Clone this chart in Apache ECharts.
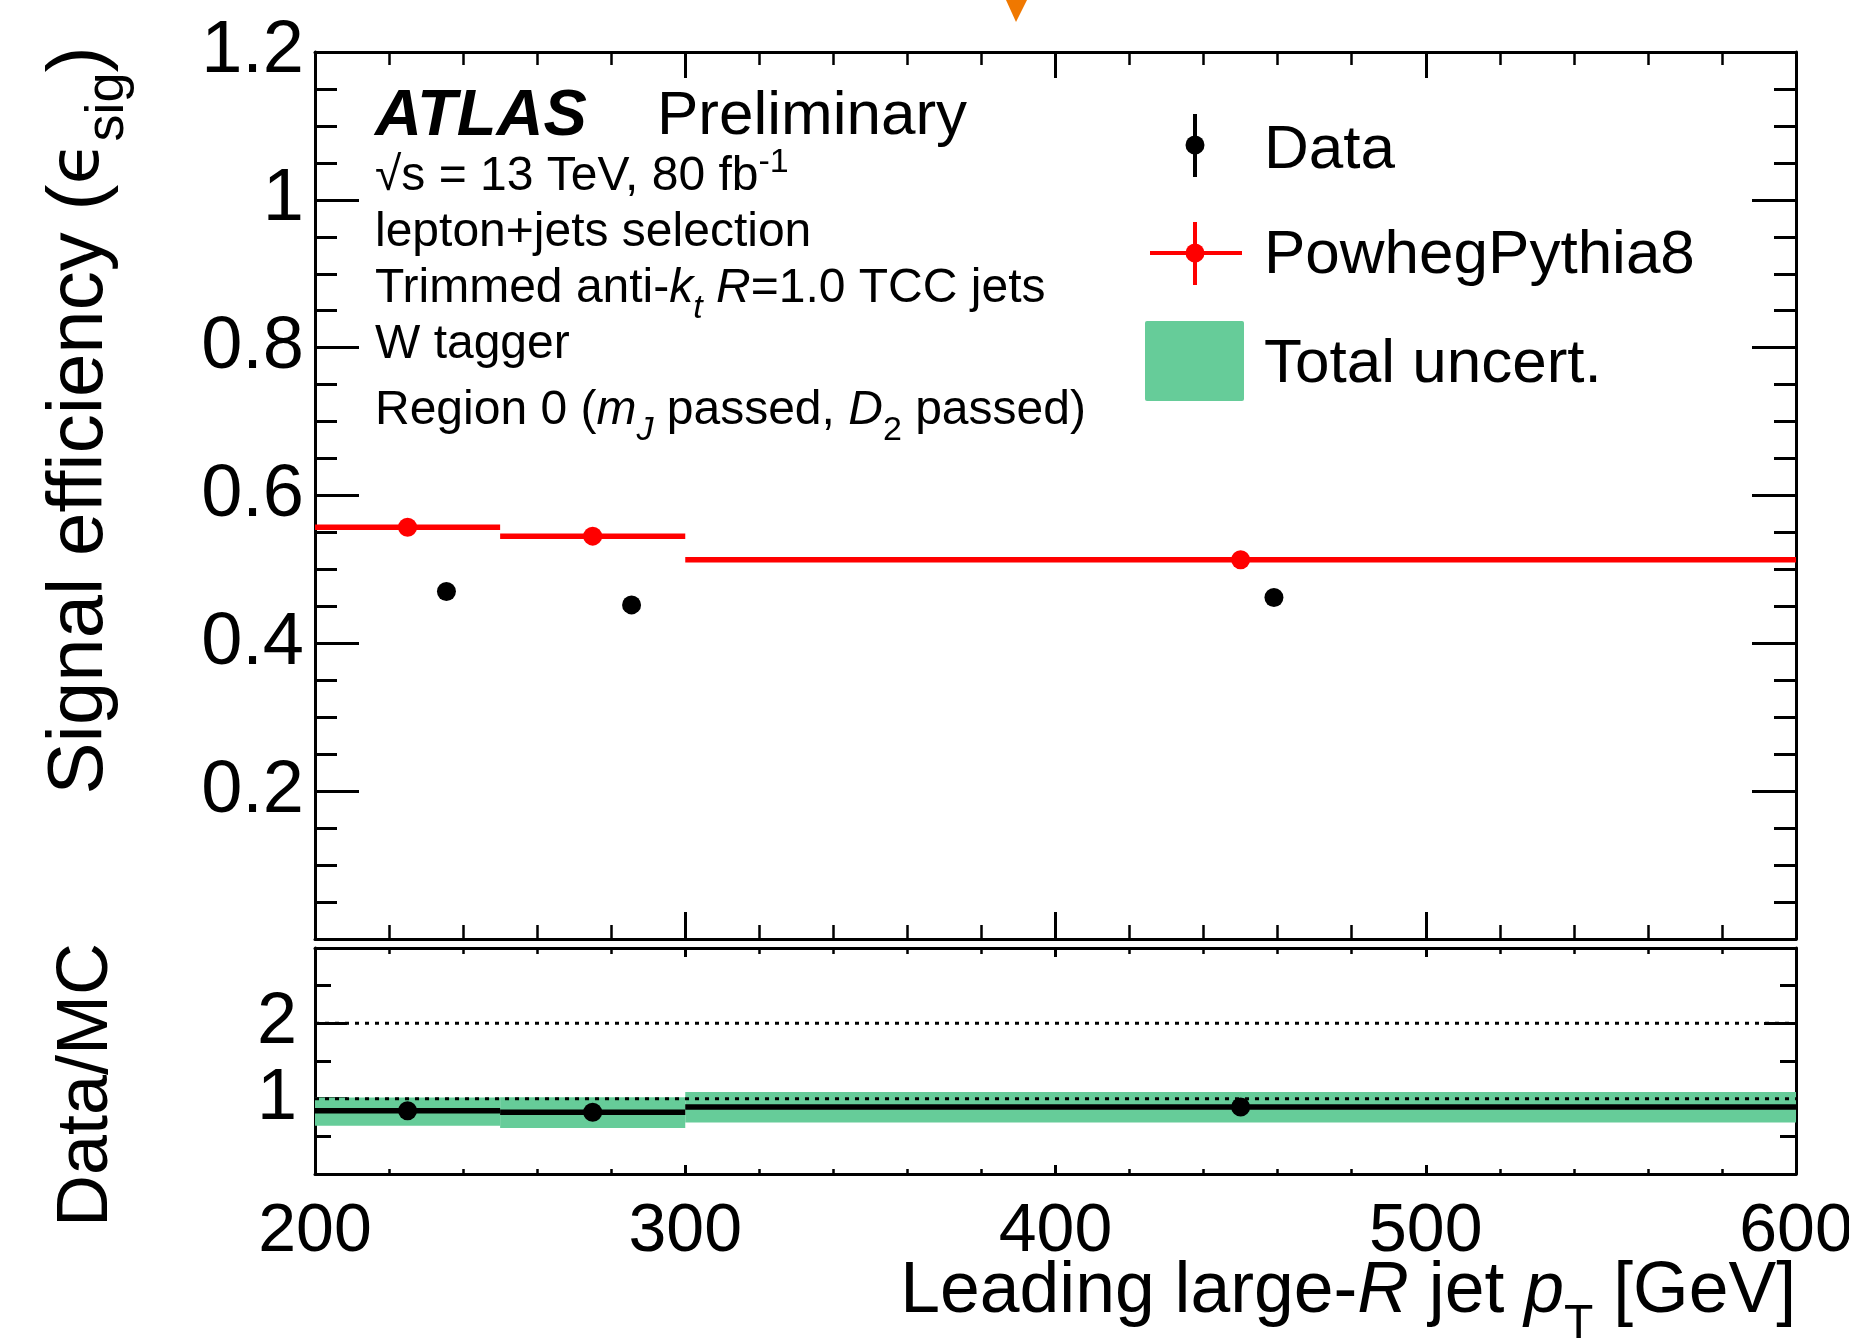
<!DOCTYPE html>
<html>
<head>
<meta charset="utf-8">
<script src="https://cdn.jsdelivr.net/npm/echarts@6/dist/echarts.min.js"></script>
<style>
html,body{margin:0;padding:0;background:#fff;}
#chart{width:1849px;height:1338px;}
</style>
</head>
<body>
<div id="chart"></div>
<script>
// ---- data ----
const binLow    = [200, 250, 300];
const binHigh   = [250, 300, 600];
const binCenter = [225, 275, 450];
const mcEff     = [0.557, 0.545, 0.513];      // PowhegPythia8
const dataX     = [235.5, 285.5, 459];        // data points (drawn offset)
const dataEff   = [0.470, 0.452, 0.462];      // Data
const ratioVal  = [0.84, 0.82, 0.89];         // Data/MC
const bandLow   = [0.64, 0.61, 0.685];        // Total uncert. lower edge
const bandHigh  = [1.015, 1.02, 1.09];        // Total uncert. upper edge
const xTicks    = [200, 300, 400, 500, 600];
const refLines  = [1, 2];

const FONT = "'Liberation Sans', Arial, Helvetica, sans-serif";
const RED = '#ff0000', GREEN = '#66cc99';

const mcRows = binLow.map((l, i) => [l, binHigh[i], mcEff[i], binCenter[i]]);
const ratioRows = binLow.map((l, i) => [l, binHigh[i], ratioVal[i], binCenter[i]]);
const bandRows = binLow.map((l, i) => [l, binHigh[i], bandLow[i], bandHigh[i]]);
const dataPts = dataX.map((x, i) => [x, dataEff[i]]);

function stepRender(color, lw, r) {
  return function (params, api) {
    const p0 = api.coord([api.value(0), api.value(2)]);
    const p1 = api.coord([api.value(1), api.value(2)]);
    const pc = api.coord([api.value(3), api.value(2)]);
    return {type: 'group', children: [
      {type: 'line', shape: {x1: p0[0], y1: p0[1], x2: p1[0], y2: p1[1]}, style: {stroke: color, lineWidth: lw}},
      {type: 'circle', shape: {cx: pc[0], cy: pc[1], r: r}, style: {fill: color}}
    ]};
  };
}

const frameLine = {show: true, onZero: false, lineStyle: {color: '#000', width: 3}};

function xAx(grid, pos, major, minor, labels) {
  return {
    type: 'value', gridIndex: grid, position: pos, min: 200, max: 600, interval: 100,
    axisLine: frameLine,
    axisTick: {show: true, inside: true, length: major, lineStyle: {color: '#000', width: 3}},
    minorTick: {show: true, splitNumber: 5, length: minor, lineStyle: {color: '#000', width: 2.5}},
    splitLine: {show: false}, minorSplitLine: {show: false},
    axisLabel: labels ? {show: true, fontFamily: FONT, fontSize: 68, lineHeight: 68, color: '#000', margin: 24,
      formatter: v => xTicks.indexOf(v) >= 0 ? String(v) : ''} : {show: false}
  };
}

const subRich = {
  t: {fontFamily: FONT, fontSize: 48, lineHeight: 56, color: '#000'},
  i: {fontFamily: FONT, fontSize: 48, lineHeight: 56, fontStyle: 'italic', color: '#000'},
  sub: {fontFamily: FONT, fontSize: 34, lineHeight: 56, height: 16, verticalAlign: 'bottom', color: '#000'},
  subi: {fontFamily: FONT, fontSize: 34, lineHeight: 56, height: 16, verticalAlign: 'bottom', fontStyle: 'italic', color: '#000'},
  sup: {fontFamily: FONT, fontSize: 34, lineHeight: 56, height: 28, verticalAlign: 'top', color: '#000'}
};

const opt = {
  animation: false,
  backgroundColor: '#fff',
  grid: [
    {left: 315, right: 53, top: 52, height: 887, containLabel: false, outerBoundsMode: 'none'},
    {left: 315, right: 53, top: 948, height: 226, containLabel: false, outerBoundsMode: 'none'}
  ],
  xAxis: [
    xAx(0, 'bottom', 27, 14, false),
    xAx(0, 'top', 26, 13, false),
    xAx(1, 'bottom', 9, 5, true),
    xAx(1, 'top', 9, 6, false)
  ],
  yAxis: [
    {
      type: 'value', gridIndex: 0, position: 'left', min: 0, max: 1.2, interval: 0.2,
      axisLine: frameLine,
      axisTick: {show: true, inside: true, length: 44, lineStyle: {color: '#000', width: 3}},
      minorTick: {show: true, splitNumber: 4, length: 22, lineStyle: {color: '#000', width: 3}},
      splitLine: {show: false}, minorSplitLine: {show: false},
      axisLabel: {fontFamily: FONT, fontSize: 74, color: '#000', margin: 11,
        formatter: v => Math.abs(v) < 1e-9 ? '' : String(+v.toFixed(2))},
      name: '{t|Signal efficiency (}{e|ϵ}{sub|sig}{t|)}',
      nameLocation: 'middle', nameRotate: 90, nameGap: 190,
      nameTextStyle: {padding: [0, 0, 0, 150],
        rich: {
          t: {fontFamily: FONT, fontSize: 78, lineHeight: 90, color: '#000'},
          e: {fontFamily: "'DejaVu Sans', " + FONT, fontSize: 70, lineHeight: 90, color: '#000'},
          sub: {fontFamily: FONT, fontSize: 54, lineHeight: 90, height: 34, verticalAlign: 'bottom', color: '#000'}
        }}
    },
    {
      type: 'value', gridIndex: 0, position: 'right', min: 0, max: 1.2, interval: 0.2,
      axisLine: frameLine,
      axisTick: {show: true, inside: true, length: 44, lineStyle: {color: '#000', width: 3}},
      minorTick: {show: true, splitNumber: 4, length: 22, lineStyle: {color: '#000', width: 3}},
      splitLine: {show: false}, minorSplitLine: {show: false},
      axisLabel: {show: false}
    },
    {
      type: 'value', gridIndex: 1, position: 'left', min: 0, max: 3, interval: 1,
      axisLine: frameLine,
      axisTick: {show: true, inside: true, length: 32, lineStyle: {color: '#000', width: 3}},
      minorTick: {show: true, splitNumber: 2, length: 16, lineStyle: {color: '#000', width: 3}},
      splitLine: {show: false}, minorSplitLine: {show: false},
      axisLabel: {fontFamily: FONT, fontSize: 72, color: '#000', margin: 18,
        formatter: v => (v === 1 || v === 2) ? String(v) : ''},
      name: 'Data/MC', nameLocation: 'middle', nameRotate: 90, nameGap: 192,
      nameTextStyle: {fontFamily: FONT, fontSize: 72, lineHeight: 72, color: '#000', padding: [0, 48, 0, 0]}
    },
    {
      type: 'value', gridIndex: 1, position: 'right', min: 0, max: 3, interval: 1,
      axisLine: frameLine,
      axisTick: {show: true, inside: true, length: 32, lineStyle: {color: '#000', width: 3}},
      minorTick: {show: true, splitNumber: 2, length: 16, lineStyle: {color: '#000', width: 3}},
      splitLine: {show: false}, minorSplitLine: {show: false},
      axisLabel: {show: false}
    }
  ],
  series: [
    {
      name: 'PowhegPythia8', type: 'custom', xAxisIndex: 0, yAxisIndex: 0, z: 5,
      data: mcRows, encode: {x: [0, 1, 3], y: 2},
      renderItem: stepRender(RED, 5.5, 9.5)
    },
    {
      name: 'Data', type: 'scatter', xAxisIndex: 0, yAxisIndex: 0, z: 6,
      data: dataPts, symbol: 'circle', symbolSize: 19, itemStyle: {color: '#000', opacity: 1}
    },
    {
      name: 'Total uncert.', type: 'custom', xAxisIndex: 2, yAxisIndex: 2, z: 2,
      data: bandRows, encode: {x: [0, 1], y: [2, 3]},
      renderItem: function (params, api) {
        const a = api.coord([api.value(0), api.value(3)]);
        const b = api.coord([api.value(1), api.value(2)]);
        return {type: 'rect', shape: {x: a[0], y: a[1], width: b[0] - a[0], height: b[1] - a[1]},
          style: {fill: GREEN}};
      }
    },
    ...refLines.map(v => ({
      type: 'line', xAxisIndex: 2, yAxisIndex: 2, z: 3, symbol: 'none', silent: true,
      data: [[200, v], [600, v]],
      lineStyle: {color: '#000', width: 3, type: [4, 6]}
    })),
    {
      name: 'Ratio', type: 'custom', xAxisIndex: 2, yAxisIndex: 2, z: 4,
      data: ratioRows, encode: {x: [0, 1, 3], y: 2},
      renderItem: stepRender('#000', 5.5, 9.5)
    }
  ],
  graphic: [
    // orange marker at the very top of the reference picture
    {type: 'polygon', shape: {points: [[1006, 0], [1027, 0], [1016, 22]]}, style: {fill: '#f07800'}},
    {type: 'text', x: 375, y: 117, style: {text: 'ATLAS', font: "italic bold 65px " + FONT, fill: '#000', verticalAlign: 'middle'}},
    {type: 'text', x: 657, y: 117, style: {text: 'Preliminary', font: "62px " + FONT, fill: '#000', verticalAlign: 'middle'}},
    ...[
      {y: 177, text: '{t|√s = 13 TeV, 80 fb}{sup|-1}'},
      {y: 233, text: '{t|lepton+jets selection}'},
      {y: 289, text: '{t|Trimmed anti-}{i|k}{subi|t}{t| }{i|R}{t|=1.0 TCC jets}'},
      {y: 345, text: '{t|W tagger}'},
      {y: 411, text: '{t|Region 0 (}{i|m}{subi|J}{t| passed, }{i|D}{sub|2}{t| passed)}'}
    ].map(o => ({
      type: 'text', x: 375, y: o.y,
      style: {text: o.text, verticalAlign: 'middle', align: 'left', rich: subRich}
    })),
    // x-axis title
    {type: 'text', x: 1796, y: 1292, style: {
      text: '{t|Leading large-}{i|R}{t| jet }{i|p}{sub|T}{t| [GeV]}',
      align: 'right', verticalAlign: 'middle',
      rich: {
        t: {fontFamily: FONT, fontSize: 71.5, lineHeight: 82, color: '#000'},
        i: {fontFamily: FONT, fontSize: 71.5, lineHeight: 82, fontStyle: 'italic', color: '#000'},
        sub: {fontFamily: FONT, fontSize: 48, lineHeight: 82, height: 16, verticalAlign: 'bottom', color: '#000'}
      }}},
    // legend
    {type: 'line', shape: {x1: 1195, y1: 114, x2: 1195, y2: 177}, style: {stroke: '#000', lineWidth: 4}},
    {type: 'circle', shape: {cx: 1195, cy: 145, r: 9.5}, style: {fill: '#000'}},
    {type: 'text', x: 1264, y: 151, style: {text: 'Data', font: "62px " + FONT, fill: '#000', verticalAlign: 'middle'}},
    {type: 'line', shape: {x1: 1150, y1: 253, x2: 1242, y2: 253}, style: {stroke: RED, lineWidth: 4}},
    {type: 'line', shape: {x1: 1195, y1: 222, x2: 1195, y2: 285}, style: {stroke: RED, lineWidth: 4}},
    {type: 'circle', shape: {cx: 1195, cy: 253, r: 9.5}, style: {fill: RED}},
    {type: 'text', x: 1264, y: 256, style: {text: 'PowhegPythia8', font: "62px " + FONT, fill: '#000', verticalAlign: 'middle'}},
    {type: 'rect', shape: {x: 1145, y: 321, width: 99, height: 80, r: 2}, style: {fill: GREEN}},
    {type: 'text', x: 1264, y: 365, style: {text: 'Total uncert.', font: "62px " + FONT, fill: '#000', verticalAlign: 'middle'}}
  ]
};

const chart = echarts.init(document.getElementById('chart'), null, {renderer: 'canvas'});
chart.setOption(opt);
</script>
</body>
</html>
